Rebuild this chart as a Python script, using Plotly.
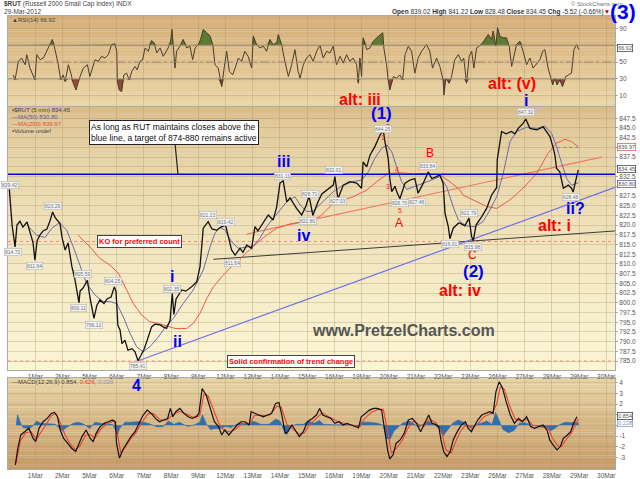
import numpy as np
import plotly.graph_objects as go

# x axis = trading day index (0 = start of chart, 1 = "1Mar" gridline ...)
day_ticks = list(range(1, 23))
day_labels = ["1Mar", "2Mar", "5Mar", "6Mar", "7Mar", "8Mar", "9Mar", "12Mar", "13Mar", "14Mar", "15Mar",
              "16Mar", "19Mar", "20Mar", "21Mar", "22Mar", "23Mar", "26Mar", "27Mar", "28Mar", "29Mar", "30Mar"]

# $RUT 5 min price path
price_t = [0.05, 0.07, 0.15, 0.26, 0.33, 0.44, 0.55, 0.70, 0.81, 0.92, 0.99, 1.07, 1.18, 1.29, 1.43, 1.54,
           1.64, 1.73, 1.84, 1.91, 1.99, 2.10, 2.21, 2.35, 2.46, 2.54, 2.61, 2.65, 2.76, 2.92, 3.01, 3.16,
           3.27, 3.38, 3.53, 3.64, 3.79, 3.91, 3.97, 4.04, 4.12, 4.19, 4.30, 4.41, 4.56, 4.67, 4.78, 4.89,
           5.00, 5.10, 5.28, 5.40, 5.59, 5.71, 5.83, 5.96, 6.04, 6.10, 6.18, 6.39, 6.54, 6.75, 6.94, 7.06,
           7.18, 7.36, 7.50, 7.67, 7.83, 8.00, 8.09, 8.22, 8.35, 8.53, 8.64, 8.78, 8.96, 9.08, 9.19, 9.39,
           9.57, 9.75, 9.88, 10.00, 10.12, 10.25, 10.37, 10.61, 10.80, 10.96, 11.07, 11.21, 11.40, 11.54,
           11.72, 11.96, 12.02, 12.13, 12.33, 12.57, 12.82, 13.00, 13.06, 13.19, 13.31, 13.49, 13.68, 13.80,
           13.86, 13.98, 14.04, 14.11, 14.23, 14.30, 14.41, 14.60, 14.78, 14.96, 15.08, 15.27, 15.45, 15.58,
           15.76, 15.88, 16.00, 16.07, 16.19, 16.25, 16.37, 16.56, 16.62, 16.80, 16.95, 17.05, 17.11, 17.21,
           17.42, 17.60, 17.78, 17.97, 17.99, 18.06, 18.15, 18.31, 18.51, 18.64, 18.76, 18.94, 19.04, 19.19,
           19.44, 19.68, 19.93, 20.05, 20.11, 20.17, 20.29, 20.42, 20.60, 20.72, 20.78, 20.88, 20.97]
price = [829.2, 827.0, 820.0, 814.4, 820.0, 821.0, 819.5, 820.8, 818.0, 815.5, 811.0, 816.0, 817.5, 818.5,
         819.0, 821.0, 823.4, 822.0, 821.0, 820.5, 816.7, 813.6, 815.4, 809.3, 806.0, 803.0, 800.0, 803.0,
         803.8, 805.8, 801.5, 796.0, 799.4, 800.7, 799.8, 801.0, 801.5, 804.1, 803.0, 794.2, 793.0, 789.5,
         790.4, 787.8, 788.2, 787.4, 785.1, 786.5, 788.0, 790.0, 793.8, 794.5, 794.3, 793.8, 793.4, 795.5,
         802.4, 797.0, 801.0, 803.3, 803.0, 804.1, 805.4, 809.3, 819.2, 820.9, 819.0, 818.7, 819.5, 820.0,
         817.0, 813.6, 812.3, 814.0, 813.0, 814.9, 814.0, 819.6, 818.5, 820.5, 822.6, 821.3, 824.7, 830.8,
         831.4, 826.0, 827.0, 824.3, 822.6, 825.0, 827.5, 822.5, 826.0, 828.0, 829.0, 830.3, 832.5, 826.8,
         830.3, 831.2, 830.8, 829.5, 836.3, 835.0, 838.0, 840.2, 843.2, 844.3, 841.5, 837.2, 832.0, 828.6,
         830.0, 828.5, 826.8, 830.8, 831.6, 832.0, 828.2, 830.8, 833.7, 832.0, 832.5, 832.9, 830.8, 823.0,
         819.6, 816.5, 819.2, 820.5, 820.5, 819.8, 821.8, 817.0, 816.0, 820.0, 822.2, 824.3, 827.7, 829.7,
         836.8, 840.2, 844.1, 843.5, 844.1, 843.5, 844.9, 846.2, 847.3, 844.9, 844.5, 845.3, 842.8, 839.8,
         838.0, 834.6, 833.7, 829.5, 830.3, 829.5, 828.5, 831.6, 834.2]

ma50_t = [0.75, 1.06, 1.36, 1.61, 1.89, 2.16, 2.40, 2.65, 2.89, 3.20, 3.50, 3.75, 4.00, 4.24, 4.49, 4.73,
          4.97, 5.22, 5.53, 5.77, 6.08, 6.44, 6.81, 7.18, 7.43, 7.61, 7.79, 7.98, 8.22, 8.47, 8.78, 9.02,
          9.26, 9.51, 9.75, 10.00, 10.25, 10.55, 10.74, 10.98, 11.22, 11.47, 11.96, 12.33, 12.69, 13.00,
          13.25, 13.49, 13.74, 13.94, 14.11, 14.29, 14.47, 14.66, 14.96, 15.27, 15.58, 15.88, 16.13, 16.37,
          16.56, 16.84, 17.17, 17.47, 17.72, 17.97, 18.21, 18.46, 18.70, 19.07, 19.44, 19.74, 19.99, 20.17,
          20.36, 20.54, 20.72, 20.97]
ma50 = [819.6, 817.4, 816.8, 819.2, 820.6, 818.7, 814.4, 809.3, 805.0, 802.0, 800.3, 800.3, 799.8, 796.4,
        792.1, 788.7, 787.4, 788.7, 791.2, 793.6, 796.0, 799.8, 803.3, 808.4, 814.4, 817.9, 819.4, 818.7,
        815.7, 814.0, 814.4, 814.6, 816.6, 819.6, 821.7, 823.9, 826.0, 827.3, 825.2, 823.5, 823.6, 825.3,
        828.6, 830.3, 831.2, 831.6, 833.7, 837.2, 839.8, 840.6, 838.9, 835.0, 831.2, 829.2, 829.9, 830.8,
        831.6, 832.5, 829.9, 824.7, 821.3, 819.8, 819.6, 820.9, 823.9, 827.3, 833.3, 841.5, 844.1, 845.2,
        844.9, 845.5, 843.6, 840.2, 835.9, 832.0, 830.3, 830.9]

ma200_t = [2.58, 3.01, 3.38, 3.75, 4.06, 4.36, 4.61, 4.92, 5.22, 5.53, 5.71, 6.14, 6.57, 6.81, 7.06, 7.31,
           7.55, 7.86, 8.16, 8.47, 8.78, 9.14, 9.51, 9.88, 10.37, 10.86, 11.47, 11.96, 12.69, 13.19, 13.56,
           13.98, 14.41, 14.90, 15.39, 15.88, 16.25, 16.62, 16.74, 17.23, 17.60, 17.97, 18.46, 18.94, 19.44,
           19.86, 20.17, 20.48, 20.72, 20.97]
ma200 = [817.4, 814.4, 811.4, 809.7, 807.6, 803.3, 799.8, 796.8, 795.1, 794.7, 794.3, 793.4, 793.4, 794.7,
         797.3, 801.1, 804.1, 806.7, 808.9, 811.0, 813.1, 815.3, 817.4, 819.2, 820.3, 820.9, 822.2, 825.6,
         827.3, 829.0, 831.2, 833.3, 833.5, 833.2, 833.3, 832.9, 831.2, 829.0, 827.7, 826.0, 824.8, 824.3,
         826.5, 829.5, 833.3, 838.5, 841.1, 842.1, 841.5, 840.2]

# drawn lines
blue_level = 833.1
blue_trend_t, blue_trend = [4.79, 22.32], [785.1, 829.7]
black_trend_t, black_trend = [7.55, 22.32], [811.2, 818.5]
red_trend_t, red_trend = [8.78, 21.83], [817.7, 837.5]
ko_level = 815.8
confirm_level = 785.0
proj_t, proj = [20.2, 20.97], [840.0, 840.0]

rsi_t = [0.19, 0.26, 0.38, 0.50, 0.63, 0.69, 0.81, 0.93, 0.99, 1.06, 1.18, 1.30, 1.42, 1.54, 1.63, 1.73,
         1.85, 1.94, 2.03, 2.10, 2.22, 2.31, 2.40, 2.50, 2.58, 2.65, 2.77, 2.92, 3.01, 3.11, 3.20, 3.32,
         3.44, 3.57, 3.69, 3.81, 3.93, 4.00, 4.02, 4.09, 4.18, 4.26, 4.36, 4.46, 4.55, 4.67, 4.75, 4.85,
         4.95, 5.04, 5.16, 5.28, 5.37, 5.47, 5.59, 5.71, 5.81, 5.89, 5.98, 6.03, 6.08, 6.14, 6.20, 6.32,
         6.44, 6.57, 6.69, 6.79, 6.88, 7.00, 7.08, 7.18, 7.31, 7.43, 7.53, 7.61, 7.73, 7.86, 7.94, 8.04,
         8.14, 8.26, 8.35, 8.47, 8.59, 8.71, 8.83, 8.96, 9.02, 9.14, 9.26, 9.39, 9.51, 9.63, 9.75, 9.88,
         9.94, 10.06, 10.18, 10.31, 10.43, 10.55, 10.67, 10.74, 10.86, 10.98, 11.10, 11.22, 11.35, 11.47,
         11.59, 11.72, 11.84, 11.96, 12.08, 12.21, 12.33, 12.45, 12.57, 12.69, 12.82, 12.88, 12.94, 13.00,
         13.06, 13.19, 13.31, 13.43, 13.56, 13.68, 13.78, 13.82, 13.92, 13.98, 14.04, 14.17, 14.29, 14.41,
         14.51, 14.60, 14.72, 14.84, 14.96, 15.08, 15.21, 15.39, 15.51, 15.61, 15.76, 15.88, 16.00, 16.03,
         16.10, 16.22, 16.31, 16.43, 16.56, 16.68, 16.76, 16.86, 16.96, 17.05, 17.13, 17.23, 17.33, 17.45,
         17.54, 17.66, 17.78, 17.84, 17.94, 18.00, 18.09, 18.21, 18.33, 18.43, 18.52, 18.60, 18.70, 18.82,
         18.94, 19.07, 19.19, 19.31, 19.44, 19.56, 19.66, 19.74, 19.86, 19.95, 20.03, 20.11, 20.19, 20.29,
         20.39, 20.51, 20.64, 20.72, 20.81, 20.91, 20.99]
rsi = [34.8, 28.8, 50.8, 54.8, 46.8, 58.8, 42.8, 32.8, 28.8, 58.8, 52.8, 54.8, 62.8, 70.8, 76.8, 64.8,
       46.8, 28.8, 34.8, 26.8, 46.8, 36.8, 24.8, 16.8, 26.8, 32.8, 42.8, 46.8, 32.8, 42.8, 52.8, 50.8,
       56.8, 54.8, 58.8, 70.8, 71.6, 62.8, 26.8, 16.8, 14.8, 34.8, 36.8, 28.8, 38.8, 44.8, 40.8, 50.8,
       52.8, 66.8, 62.8, 75.6, 72.8, 60.8, 66.8, 56.8, 62.8, 66.8, 74.8, 88.8, 68.8, 42.8, 62.8, 68.8,
       76.8, 66.8, 68.8, 52.8, 66.8, 70.8, 76.8, 88.8, 84.8, 80.8, 70.8, 46.8, 42.8, 20.8, 40.8, 62.8,
       38.8, 34.8, 42.8, 54.8, 50.8, 62.8, 56.8, 42.8, 80.8, 70.8, 66.8, 68.8, 62.8, 76.8, 70.8, 72.8,
       82.8, 70.8, 50.8, 32.8, 46.8, 64.8, 38.8, 30.8, 46.8, 54.8, 58.8, 50.8, 62.8, 70.0,
       54.8, 62.8, 60.8, 68.8, 46.8, 56.8, 48.8, 58.8, 50.8, 54.8, 46.8, 24.8, 54.8, 32.8,
       78.8, 64.8, 66.8, 74.8, 78.8, 82.0, 84.8, 66.8, 46.8, 28.8, 16.8, 32.8, 30.8, 34.8,
       28.8, 58.8, 68.8, 62.8, 36.8, 54.8, 62.8, 70.8, 62.8, 42.8, 54.8, 44.8, 28.8, 10.8,
       30.8, 24.8, 32.8, 52.8, 58.8, 50.8, 54.8, 24.8, 56.8, 62.8, 42.8, 66.8, 68.8, 72.8,
       76.8, 82.8, 76.8, 86.8, 68.8, 90.8, 80.8, 78.8, 78.8, 68.8, 44.8, 54.8, 70.8, 74.8,
       62.8, 46.8, 54.8, 42.8, 48.8, 52.8, 62.8, 64.8, 42.8, 30.8, 22.8, 30.8, 22.8, 28.8,
       20.8, 32.8, 34.8, 36.8, 64.8, 70.8, 64.8]

macd_t = [0.27, 0.36, 0.47, 0.62, 0.77, 0.92, 1.02, 1.14, 1.29, 1.44, 1.59, 1.71, 1.82, 1.92, 2.04, 2.19,
          2.34, 2.49, 2.60, 2.72, 2.87, 3.02, 3.13, 3.24, 3.39, 3.54, 3.69, 3.84, 3.95, 3.99, 4.10, 4.22,
          4.37, 4.52, 4.67, 4.82, 4.97, 5.12, 5.27, 5.42, 5.57, 5.72, 5.87, 5.97, 6.06, 6.17, 6.32, 6.47,
          6.62, 6.77, 6.92, 7.02, 7.14, 7.29, 7.44, 7.59, 7.74, 7.86, 7.97, 8.12, 8.27, 8.42, 8.57, 8.72,
          8.87, 8.94, 9.09, 9.24, 9.39, 9.54, 9.69, 9.84, 9.96, 10.07, 10.19, 10.29, 10.44, 10.56, 10.71,
          10.86, 11.01, 11.19, 11.34, 11.46, 11.57, 11.72, 11.87, 12.02, 12.17, 12.32, 12.47, 12.62, 12.77,
          12.89, 12.99, 13.14, 13.29, 13.44, 13.59, 13.74, 13.86, 13.97, 14.04, 14.16, 14.27, 14.42, 14.57,
          14.72, 14.87, 15.02, 15.17, 15.32, 15.47, 15.59, 15.72, 15.84, 15.92, 16.02, 16.14, 16.26, 16.37,
          16.52, 16.67, 16.82, 16.92, 17.04, 17.16, 17.27, 17.42, 17.57, 17.72, 17.84, 17.94, 18.06, 18.17,
          18.32, 18.47, 18.62, 18.77, 18.92, 19.07, 19.22, 19.37, 19.52, 19.67, 19.82, 19.92, 20.04, 20.19,
          20.31, 20.42, 20.57, 20.69, 20.80, 20.92]
macd = [-3.71, -2.15, -0.90, -0.59, -0.28, -1.21, -1.53, -0.28, 0.34, 0.65, 1.12, 1.21, 0.81, -0.44, -1.21,
        -1.68, -2.15, -2.46, -1.84, -1.06, -0.44, -1.21, -1.53, -0.75, -0.12, 0.19, 0.34, 0.50, 0.34, -1.68,
        -3.08, -2.31, -1.68, -1.06, -0.59, 0.19, 0.97, 1.43, 1.12, 0.65, 0.34, 0.50, 0.65, 1.59, 0.81, 1.28,
        1.59, 1.12, 0.81, 0.65, 0.81, 1.12, 3.46, 2.83, 1.59, 0.34, -0.12, -0.90, -0.44, -0.90, -0.44, 0.03,
        0.34, 0.34, 0.03, 1.28, 1.12, 0.97, 0.81, 0.97, 1.12, 2.06, 2.15, 0.97, -0.75, -0.59, 0.03, -0.44,
        -1.06, -0.59, 0.34, 0.65, 0.97, 1.59, 0.97, 0.81, 0.65, 0.19, 0.34, 0.03, 0.19, 0.03, -0.12, -0.22,
        0.81, 1.12, 1.43, 1.59, 1.59, 1.43, -0.59, -2.46, -3.15, -2.77, -1.68, -1.37, -0.75, 0.50, 0.65,
        0.19, -0.59, 0.19, 0.97, 0.19, 0.09, -0.12, -1.37, -2.46, -2.93, -2.46, -1.37, -0.59, 0.03, 0.34,
        -0.28, -0.59, 0.03, 0.50, 0.97, 1.12, 1.28, 1.12, 3.15, 4.08, 3.61, 2.21, 0.97, 0.19, 0.65, 0.34,
        0.81, -0.12, -0.28, -0.12, 0.03, -0.44, -1.37, -1.84, -2.31, -1.99, -1.21, -0.90, -0.59, 0.19, 0.81]

sig_t = [0.30, 0.45, 0.65, 0.85, 1.05, 1.20, 1.40, 1.60, 1.75, 1.90, 2.10, 2.30, 2.50, 2.65, 2.85, 3.05,
         3.20, 3.40, 3.60, 3.90, 4.02, 4.15, 4.30, 4.50, 4.70, 4.90, 5.15, 5.35, 5.60, 5.85, 6.05, 6.30,
         6.55, 6.80, 7.05, 7.20, 7.35, 7.55, 7.75, 7.95, 8.15, 8.35, 8.60, 8.90, 9.05, 9.30, 9.60, 9.90,
         10.05, 10.25, 10.45, 10.70, 10.90, 11.10, 11.40, 11.55, 11.80, 12.10, 12.40, 12.70, 12.95, 13.10,
         13.35, 13.60, 13.80, 13.95, 14.10, 14.30, 14.50, 14.70, 14.90, 15.10, 15.30, 15.50, 15.75, 15.95,
         16.10, 16.30, 16.45, 16.65, 16.85, 17.05, 17.25, 17.50, 17.80, 17.97, 18.10, 18.25, 18.45, 18.65,
         18.85, 19.10, 19.30, 19.60, 19.85, 20.00, 20.20, 20.35, 20.50, 20.70, 20.85, 20.97]
sig = [-3.5, -1.5, -0.7, -0.6, -1.3, -0.7, 0.2, 0.9, 1.15, 0.4, -0.9, -1.8, -2.3, -1.9, -0.9, -0.9,
       -1.2, -0.4, 0.1, 0.4, -0.8, -2.6, -2.1, -1.3, -0.7, 0.2, 1.1, 1.1, 0.5, 0.5, 1.0, 1.3,
       1.1, 0.75, 0.9, 2.9, 2.8, 1.4, 0.2, -0.5, -0.6, -0.4, 0.15, 0.2, 0.9, 0.95, 0.9, 1.8,
       1.7, 0.1, -0.3, -0.8, -0.7, 0.1, 0.8, 1.2, 0.8, 0.4, 0.15, 0.05, -0.1, 0.6,
       1.2, 1.5, 1.5, -0.4, -2.6, -2.1, -1.4, -0.3, 0.4, 0.1, -0.1, 0.6, 0.2, -0.6,
       -2.3, -2.6, -1.6, -0.5, 0.1, -0.3, 0.1, 0.8, 1.15, 2.0, 3.6, 3.4, 1.8, 0.6,
       0.4, 0.6, 0.0, -0.15, -0.2, -1.1, -1.9, -2.0, -1.4, -0.8, -0.1, 0.6]

hist_t = [0.30, 0.35, 0.45, 0.55, 0.75, 0.90, 1.05, 1.20, 1.50, 1.75, 1.90, 2.00, 2.15, 2.40, 2.60, 2.80,
          3.00, 3.20, 3.40, 3.60, 3.85, 3.97, 4.03, 4.10, 4.30, 4.50, 4.75, 5.00, 5.20, 5.50, 5.70, 5.90,
          6.10, 6.30, 6.60, 6.85, 7.05, 7.15, 7.30, 7.45, 7.60, 7.80, 8.00, 8.20, 8.40, 8.60, 8.90, 9.00,
          9.30, 9.60, 9.85, 10.00, 10.15, 10.25, 10.40, 10.60, 10.85, 11.05, 11.25, 11.45, 11.60, 12.00,
          12.50, 12.85, 13.00, 13.30, 13.60, 13.80, 13.90, 14.05, 14.20, 14.50, 14.75, 14.90, 15.10, 15.30,
          15.45, 15.65, 15.85, 16.00, 16.15, 16.35, 16.55, 16.75, 17.00, 17.20, 17.40, 17.60, 17.80, 17.93,
          18.05, 18.20, 18.40, 18.60, 18.80, 19.00, 19.20, 19.50, 19.80, 19.95, 20.10, 20.30, 20.50, 20.70,
          20.85, 20.97, 20.98]
hist = [0.0, 1.0, 0.3, -0.2, -0.3, -0.1, 0.4, 0.2, 0.15, 0.1, -0.3, -0.5, -0.2, 0.2, 0.3, 0.1,
        -0.3, 0.3, 0.2, 0.1, 0.1, -0.5, -0.9, -0.3, 0.3, 0.3, 0.35, 0.3, 0.15, -0.15, -0.1, 0.4,
        0.1, 0.3, -0.1, 0.05, 0.3, 1.0, 0.1, -0.4, -0.3, -0.3, -0.1, -0.2, 0.1, 0.2, 0.1, 0.4,
        0.1, 0.1, 0.6, 0.4, -0.5, -0.9, -0.1, 0.1, 0.1, 0.4, 0.2, 0.45, 0.1, 0.05,
        0.05, -0.1, 0.3, 0.3, 0.2, 0.0, -1.2, -1.3, -0.5, 0.2, 0.4, 0.2, -0.2, 0.2,
        0.4, 0.1, -0.3, -1.0, -0.5, 0.2, 0.5, 0.3, -0.2, 0.1, 0.2, 0.4, 0.1, 1.2,
        0.5, -0.4, -0.7, -0.5, 0.2, 0.25, 0.05, -0.05, -0.2, -0.5, -0.3, 0.1, 0.3, 0.25,
        0.3, 0.23, 0.0]

# price tags printed on the chart
tag_text = ["829.42", "814.72", "823.29", "811.94", "805.59", "804.25", "800.11", "796.12", "785.41",
            "802.35", "821.13", "819.42", "811.64", "831.11", "826.71", "822.80", "832.01", "827.03",
            "844.25", "826.70", "827.46", "833.84", "816.01", "821.79", "815.98", "847.32", "828.48"]
tag_t = [0.07, 0.19, 1.64, 0.99, 2.77, 3.87, 2.58, 3.16, 4.79, 6.04, 7.36, 8.0, 8.25, 10.1, 11.1, 11.04,
         11.99, 12.14, 13.8, 14.41, 15.03, 15.45, 16.25, 16.95, 17.08, 19.04, 20.72]
tag_y = [830.3, 813.1, 825.0, 809.5, 807.5, 805.6, 798.6, 794.4, 783.7, 803.5, 822.6, 820.9, 810.3, 832.6,
         828.0, 821.0, 834.2, 826.3, 844.7, 825.6, 826.0, 835.3, 815.1, 823.2, 814.4, 849.2, 827.2]

# axis tick values (labels hidden where a value box sits on top of them)
price_ticks = list(np.arange(785, 848, 2.5))
price_tick_text = ["" if v in (830.0, 835.0, 840.0) else "%.1f" % v for v in price_ticks]
rsi_ticks = [10, 30, 50, 70, 90]
rsi_tick_text = ["10", "30", "50", "", "90"]
macd_ticks = [-3, -2, -1, 0, 1, 2, 3, 4]
macd_tick_text = ["-3", "-2", "-1", "", "", "2", "3", "4"]

FONT = "Liberation Sans, Arial, sans-serif"
XMAX = 22.32

fig = go.Figure()

# ---- RSI panel
base70 = [70] * len(rsi)
base30 = [30] * len(rsi)
fig.add_trace(go.Scatter(x=rsi_t, y=base70, xaxis="x2", yaxis="y2", mode="lines",
                         line=dict(width=0, color="rgba(0,0,0,0)"), hoverinfo="skip"))
fig.add_trace(go.Scatter(x=rsi_t, y=np.maximum(rsi, 70), xaxis="x2", yaxis="y2", mode="lines",
                         fill="tonexty", fillcolor="#5d7a32", line=dict(width=0), hoverinfo="skip"))
fig.add_trace(go.Scatter(x=rsi_t, y=base30, xaxis="x2", yaxis="y2", mode="lines",
                         line=dict(width=0, color="rgba(0,0,0,0)"), hoverinfo="skip"))
fig.add_trace(go.Scatter(x=rsi_t, y=np.minimum(rsi, 30), xaxis="x2", yaxis="y2", mode="lines",
                         fill="tonexty", fillcolor="#8e4a36", line=dict(width=0), hoverinfo="skip"))
fig.add_trace(go.Scatter(x=rsi_t, y=rsi, xaxis="x2", yaxis="y2", mode="lines",
                         line=dict(color="#4a3c2c", width=1)))

# ---- main price panel
full = [0, XMAX]
fig.add_trace(go.Scatter(x=full, y=[ko_level] * 2, mode="lines", line=dict(color="#f08a78", width=1, dash="dot")))
fig.add_trace(go.Scatter(x=full, y=[confirm_level] * 2, mode="lines", line=dict(color="#f08a78", width=1, dash="dot")))
fig.add_trace(go.Scatter(x=black_trend_t, y=black_trend, mode="lines", line=dict(color="#3a3a3a", width=1)))
fig.add_trace(go.Scatter(x=blue_trend_t, y=blue_trend, mode="lines", line=dict(color="#6f6ff0", width=1.2)))
fig.add_trace(go.Scatter(x=red_trend_t, y=red_trend, mode="lines", line=dict(color="#f07a60", width=1.2)))
fig.add_trace(go.Scatter(x=ma200_t, y=ma200, mode="lines", line=dict(color="#ee5a44", width=1)))
fig.add_trace(go.Scatter(x=ma50_t, y=ma50, mode="lines", line=dict(color="#6a6aa8", width=1)))
fig.add_trace(go.Scatter(x=proj_t, y=proj, mode="lines", line=dict(color="#7a7ae0", width=1, dash="dot")))
fig.add_trace(go.Scatter(x=price_t, y=price, mode="lines", line=dict(color="#111111", width=1.3)))
fig.add_trace(go.Scatter(x=full, y=[blue_level] * 2, mode="lines", line=dict(color="#0000e6", width=1.6)))

# ---- MACD panel
fig.add_trace(go.Scatter(x=hist_t, y=hist, xaxis="x3", yaxis="y3", mode="lines", fill="tozeroy",
                         fillcolor="#2f6fae", line=dict(color="#2f6fae", width=0.6)))
fig.add_trace(go.Scatter(x=sig_t, y=sig, xaxis="x3", yaxis="y3", mode="lines",
                         line=dict(color="#ee4030", width=1.1)))
fig.add_trace(go.Scatter(x=macd_t, y=macd, xaxis="x3", yaxis="y3", mode="lines",
                         line=dict(color="#111111", width=1.2)))


def mix(c0, c1, t):
    a = [int(c0[i:i + 2], 16) for i in (1, 3, 5)]
    b = [int(c1[i:i + 2], 16) for i in (1, 3, 5)]
    return "rgb(%d,%d,%d)" % tuple(round(a[k] + (b[k] - a[k]) * t) for k in range(3))


shapes = []
# gradient backgrounds of the three panels
for xr, yr, c0, c1, g in [("x2", "y2", "#d4ae78", "#ead5a6", 1.0),
                          ("x", "y", "#d9bd8a", "#fbf5d4", 0.55),
                          ("x3", "y3", "#e6d3a4", "#c69b66", 1.0)]:
    n = 40
    for i in range(n):
        shapes.append(dict(type="rect", xref=xr + " domain", yref=yr + " domain", x0=0, x1=1,
                           y0=1 - (i + 1) / n, y1=1 - i / n + 0.002, layer="below",
                           line=dict(width=0), fillcolor=mix(c0, c1, (i / (n - 1)) ** g)))
for lvl, dash in [(70, "solid"), (30, "solid"), (50, "dashdot")]:
    shapes.append(dict(type="line", xref="x2 domain", yref="y2", x0=0, x1=1, y0=lvl, y1=lvl,
                       line=dict(color="#9a8e78", width=1, dash=dash)))

ann = []


def txt(s, x, y, color="#0000ff", size=15, xref="x", yref="y", bold=True, **kw):
    d = dict(text="<b>%s</b>" % s if bold else s, x=x, y=y, xref=xref, yref=yref, showarrow=False,
             xanchor="center", yanchor="middle", font=dict(family=FONT, size=size, color=color))
    d.update(kw)
    ann.append(d)


# wave labels
txt("(1)", 13.74, 848.6, size=17)
txt("iii", 10.12, 836.3, size=16)
txt("iv", 10.86, 817.2, size=16)
txt("i", 6.04, 806.8, size=16)
txt("ii", 6.22, 790.0, size=16)
txt("B", 15.51, 838.5, color="#ff0000", size=12, bold=False)
txt("A", 14.39, 820.6, color="#ff0000", size=12, bold=False)
txt("C", 17.08, 812.3, color="#ff0000", size=12, bold=False)
txt("(2)", 17.11, 808.0, size=17)
txt("alt: iv", 16.62, 803.2, color="#ff0000", size=16)
txt("ii?", 20.87, 824.2, size=16)
txt("alt: i", 20.11, 820.0, color="#ff0000", size=16)
for s, x, y in [("2", 13.97, 845.4), ("1", 13.8, 842.6), ("3", 13.98, 829.9), ("4", 14.29, 834.4),
                ("5", 14.41, 823.7)]:
    txt(s, x, y, color="#ff2020", size=7, bold=False)
txt("www.PretzelCharts.com", 14.53, 792.8, color="#555555", size=16)
txt("KO for preferred count", 4.85, ko_level, color="#ff0000", size=7.5, bgcolor="white",
    bordercolor="#444444", borderwidth=1, borderpad=1)
txt("Solid confirmation of trend change", 10.4, confirm_level, color="#ff0000", size=7.5,
    bgcolor="white", bordercolor="#444444", borderwidth=1, borderpad=1)
ann.append(dict(text="As long as RUT maintains closes above the<br>blue line, a target of 874-880 remains active",
                x=6.25, y=blue_level, xref="x", yref="y", showarrow=True, arrowhead=0, arrowwidth=1.2,
                arrowcolor="#222222", ax=-4, ay=-42, align="left", bgcolor="white", bordercolor="#222222",
                borderwidth=1, borderpad=1, font=dict(family=FONT, size=8.5, color="#111111")))
for s, x, y in zip(tag_text, tag_t, tag_y):
    txt(s, x, y, color="#777777", size=5, bold=False, bgcolor="#f2f2f2", bordercolor="#aaaaaa",
        borderwidth=0.5, borderpad=0.5)

# labels sitting in the RSI / MACD panels
txt("alt: iii", 12.94, 6, color="#ff0000", size=16, xref="x2", yref="y2")
txt("alt: (v)", 18.53, 24, color="#ff0000", size=16, xref="x2", yref="y2")
txt("i", 19.04, 4, size=16, xref="x2", yref="y2")
txt("4", 4.72, 3.7, size=16, xref="x3", yref="y3")

# right side value boxes
for s, y, c in [("839.97", 840.1, "#e05040"), ("834.45", 834.4, "#333333"), ("830.80", 830.6, "#4a4aa0")]:
    txt(s, 1.003, y, color="#555555", size=5.5, bold=False, xref="paper", yref="y", xanchor="left",
        bgcolor="white", bordercolor=c, borderwidth=0.7, borderpad=0.5)
txt("66.92", 1.003, 67, color="#555555", size=5.5, bold=False, xref="paper", yref="y2", xanchor="left",
    bgcolor="white", bordercolor="#333333", borderwidth=0.7, borderpad=0.5)
txt("0.228", 1.003, 0.2, color="#7d8fb5", size=5.5, bold=False, xref="paper", yref="y3", xanchor="left",
    bgcolor="white", bordercolor="#7d8fb5", borderwidth=0.7, borderpad=0.5)
txt("0.854", 1.003, 0.9, color="#555555", size=5.5, bold=False, xref="paper", yref="y3", xanchor="left",
    bgcolor="white", bordercolor="#333333", borderwidth=0.7, borderpad=0.5)

# panel legends
small = dict(bold=False, size=6, xanchor="left", yanchor="middle")
txt("▲RSI(14) 66.92", 0.004, 0.96, color="#444444", xref="x2 domain", yref="y2 domain", **small)
txt("▪$RUT (5 min) 834.45", 0.004, 0.99, color="#444444", xref="x domain", yref="y domain", **small)
txt("—MA(50) 830.80", 0.004, 0.963, color="#5a5a9a", xref="x domain", yref="y domain", **small)
txt("—MA(200) 839.97", 0.004, 0.936, color="#e05040", xref="x domain", yref="y domain", **small)
txt("▪Volume undef", 0.004, 0.909, color="#444444", xref="x domain", yref="y domain", **small)
txt("—MACD(12,26,9) 0.854, <span style='color:#ee4030'>0.626</span>, "
    "<span style='color:#8fa0c0'>0.228</span>", 0.004, 0.955, color="#444444",
    xref="x3 domain", yref="y3 domain", **small)

# header
txt("<b>$RUT</b> (Russell 2000 Small Cap Index) INDX", -0.01, 1.026, color="#444444", size=6.5,
    bold=False, xref="paper", yref="paper", xanchor="left")
txt("29-Mar-2012", -0.01, 1.009, color="#444444", size=6.5, bold=False, xref="paper", yref="paper",
    xanchor="left")
txt("© StockCharts.com", 0.97, 1.027, color="#777777", size=6, bold=False, xref="paper", yref="paper")
txt("<b>Open</b> 839.02 <b>High</b> 841.22 <b>Low</b> 828.48 <b>Close</b> 834.45 <b>Chg</b> -5.52 (-0.66%)"
    "<span style='color:#cc0000'>▼</span>", 0.995, 1.009, color="#333333", size=6.5, bold=False,
    xref="paper", yref="paper", xanchor="right")
txt("(3)", 1.013, 1.01, size=21, xref="paper", yref="paper")

axis_font = dict(family=FONT, size=6.5, color="#555555")
grid = "rgba(170,150,110,0.35)"
xcommon = dict(range=[0, XMAX], tickvals=day_ticks, ticktext=day_labels, showgrid=True, gridcolor=grid,
               gridwidth=1, zeroline=False, showline=True, linecolor="#aaaaaa", mirror=True,
               ticks="", tickfont=axis_font, fixedrange=True, automargin=False)
ycommon = dict(side="right", showgrid=True, gridcolor=grid, zeroline=False, showline=True,
               linecolor="#aaaaaa", mirror=True, ticks="outside", ticklen=2, tickcolor="#aaaaaa",
               tickfont=axis_font, automargin=False)

fig.update_layout(
    width=640, height=479,
    margin=dict(l=8, r=25, t=16, b=10),
    paper_bgcolor="white", plot_bgcolor="rgba(0,0,0,0)",
    showlegend=False,
    font=dict(family=FONT),
    xaxis=dict(anchor="y", **xcommon),
    xaxis2=dict(anchor="y2", matches="x", showticklabels=False, **{k: v for k, v in xcommon.items()}),
    xaxis3=dict(anchor="y3", matches="x", **xcommon),
    yaxis=dict(domain=[0.2185, 0.7991], range=[782.7, 850.4], tickvals=price_ticks,
               ticktext=price_tick_text, **ycommon),
    yaxis2=dict(domain=[0.8013, 1.0], range=[-2.2, 104.7], tickvals=rsi_ticks, ticktext=rsi_tick_text,
                **ycommon),
    yaxis3=dict(domain=[0.0, 0.2009], range=[-4.1, 4.45], tickvals=macd_ticks, ticktext=macd_tick_text,
                **ycommon),
    shapes=shapes,
    annotations=ann,
)

# the page's default body margin would push the 640x479 figure off the window
fig.write_html("out.html", config={"displayModeBar": False},
               post_script="document.body.style.margin='0';document.body.style.overflow='hidden';")
